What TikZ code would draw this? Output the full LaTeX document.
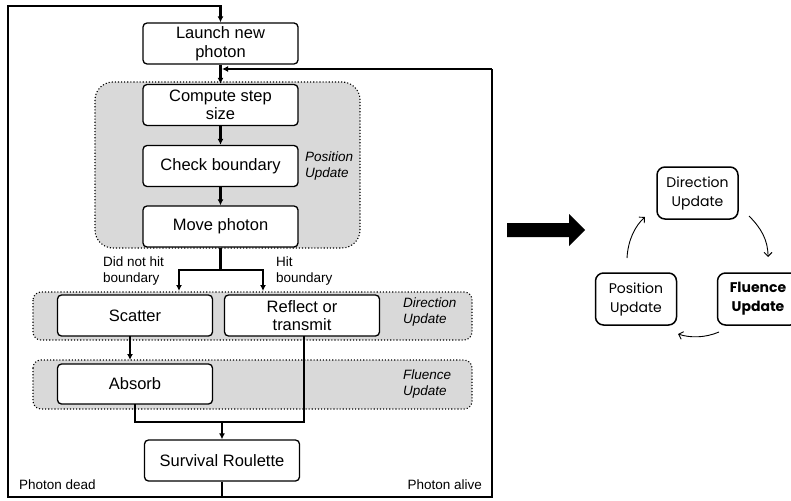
\documentclass[tikz,border=0pt]{standalone}
\usepackage{fontspec}
\setmainfont{Liberation Sans}
\newfontfamily\geo{Poppins}
\usetikzlibrary{arrows.meta}
\definecolor{grp}{HTML}{D9D9D9}
\tikzset{
  box/.style={draw=black, line width=1.3pt, fill=white, rounded corners=4pt, minimum width=155pt, minimum height=41pt, align=center, inner sep=1pt, font=\fontsize{16.5}{18.5}\selectfont},
  grpbox/.style={draw=black, fill=grp, dotted, line width=1.1pt},
  conn/.style={line width=2.3pt},
  arr/.style={conn, -{Latex[length=6pt,width=6pt]}},
  lbl/.style={align=left, inner sep=0pt, font=\fontsize{13.5}{16}\selectfont},
  ilbl/.style={lbl, font=\fontsize{13.5}{16}\selectfont\itshape},
  cyc/.style={draw=black, line width=1.5pt, rounded corners=8pt, fill=white, minimum width=81pt, minimum height=52pt, align=center, inner sep=1pt, font=\geo\fontsize{14}{19}\selectfont},
  carr/.style={line width=0.9pt, -{Straight Barb[length=4pt,width=8pt]}}
}
\begin{document}
\begin{tikzpicture}[x=1pt,y=-1pt]
\useasboundingbox (0,0) rectangle (791,500);
% groups
\draw[grpbox, rounded corners=18pt] (95,82) rectangle (360,248);
\draw[grpbox, rounded corners=8pt] (33,292) rectangle (472,340);
\draw[grpbox, rounded corners=8pt] (33,360) rectangle (472,409);
% boxes
\node[box] (launch) at (220.5,43.5) {Launch new\\photon};
\node[box] (compute) at (220.5,105) {Compute step\\size};
\node[box] (check) at (220.5,166) {Check boundary};
\node[box] (move) at (220.5,226.5) {Move photon};
\node[box] (scatter) at (135,315.5) {Scatter};
\node[box] (reflect) at (302,315.5) {Reflect or\\transmit};
\node[box, minimum height=40pt] (absorb) at (135,384) {Absorb};
\node[box] (surv) at (222,460.5) {Survival Roulette};
% labels
\node[ilbl, anchor=west] (lpos) at (305,166) {Position\\Update};
\node[ilbl, anchor=west] (ldir) at (403,312) {Direction\\Update};
\node[ilbl, anchor=west] (lflu) at (403,384) {Fluence\\Update};
\node[lbl, anchor=west] (ldnh) at (103,271) {Did not hit\\boundary};
\node[lbl, anchor=west] (lhit) at (276,271) {Hit\\boundary};
\node[lbl, anchor=west] (ldead) at (19,485) {Photon dead};
\node[lbl, anchor=east] (lalive) at (482,485) {Photon alive};
% coordinates
\coordinate (bot) at (222,497);
\coordinate (tl) at (8,6);
\coordinate (rt) at (492,69);
\coordinate (join) at (222,69);
\coordinate (split) at (220.5,270);
\coordinate (tscat) at (179,291);
\coordinate (trefl) at (263,291);
\coordinate (sa1) at (130,336);
\coordinate (sa2) at (130,360);
\coordinate (merge) at (222,422);
\coordinate (ab) at (135,404);
\coordinate (rb) at (304,336);
% connectors
\draw[arr] (surv.south) -- (bot) -| (tl) -| (launch.north);
\draw[conn] (bot) -| (rt);
\draw[arr] (rt) -- (join);
\draw[arr] (launch.south) -- (compute.north);
\draw[arr] (compute.south) -- (check.north);
\draw[arr] (check.south) -- (move.north);
\draw[conn] (move.south) -- (split);
\draw[arr] (split) -| (tscat);
\draw[arr] (split) -| (trefl);
\draw[arr] (sa1) -- (sa2);
\draw[conn] (ab) |- (merge) -| (rb);
\draw[arr] (merge) -- (surv.north);
% big arrow
\fill[black] (507,223) -- (569,223) -- (569,214) -- (585,230) -- (569,246) -- (569,237) -- (507,237) -- cycle;
% cycle
\node[cyc] (dirN) at (697.5,193) {Direction\\Update};
\node[cyc] (posN) at (636,299) {Position\\Update};
\node[cyc, font=\geo\bfseries\fontsize{14}{19}\selectfont] (fluN) at (758,299) {Fluence\\Update};
\coordinate (c1) at (749,216);
\coordinate (c2) at (768,257);
\coordinate (c3) at (719,332);
\coordinate (c4) at (678,334);
\coordinate (c5) at (627,258);
\coordinate (c6) at (645,217);
\draw[carr] (c1) .. controls (761,228) and (768,240) .. (c2);
\draw[carr] (c3) .. controls (705,338) and (690,338) .. (c4);
\draw[carr] (c5) .. controls (628,240) and (635,226) .. (c6);
\end{tikzpicture}
\end{document}
